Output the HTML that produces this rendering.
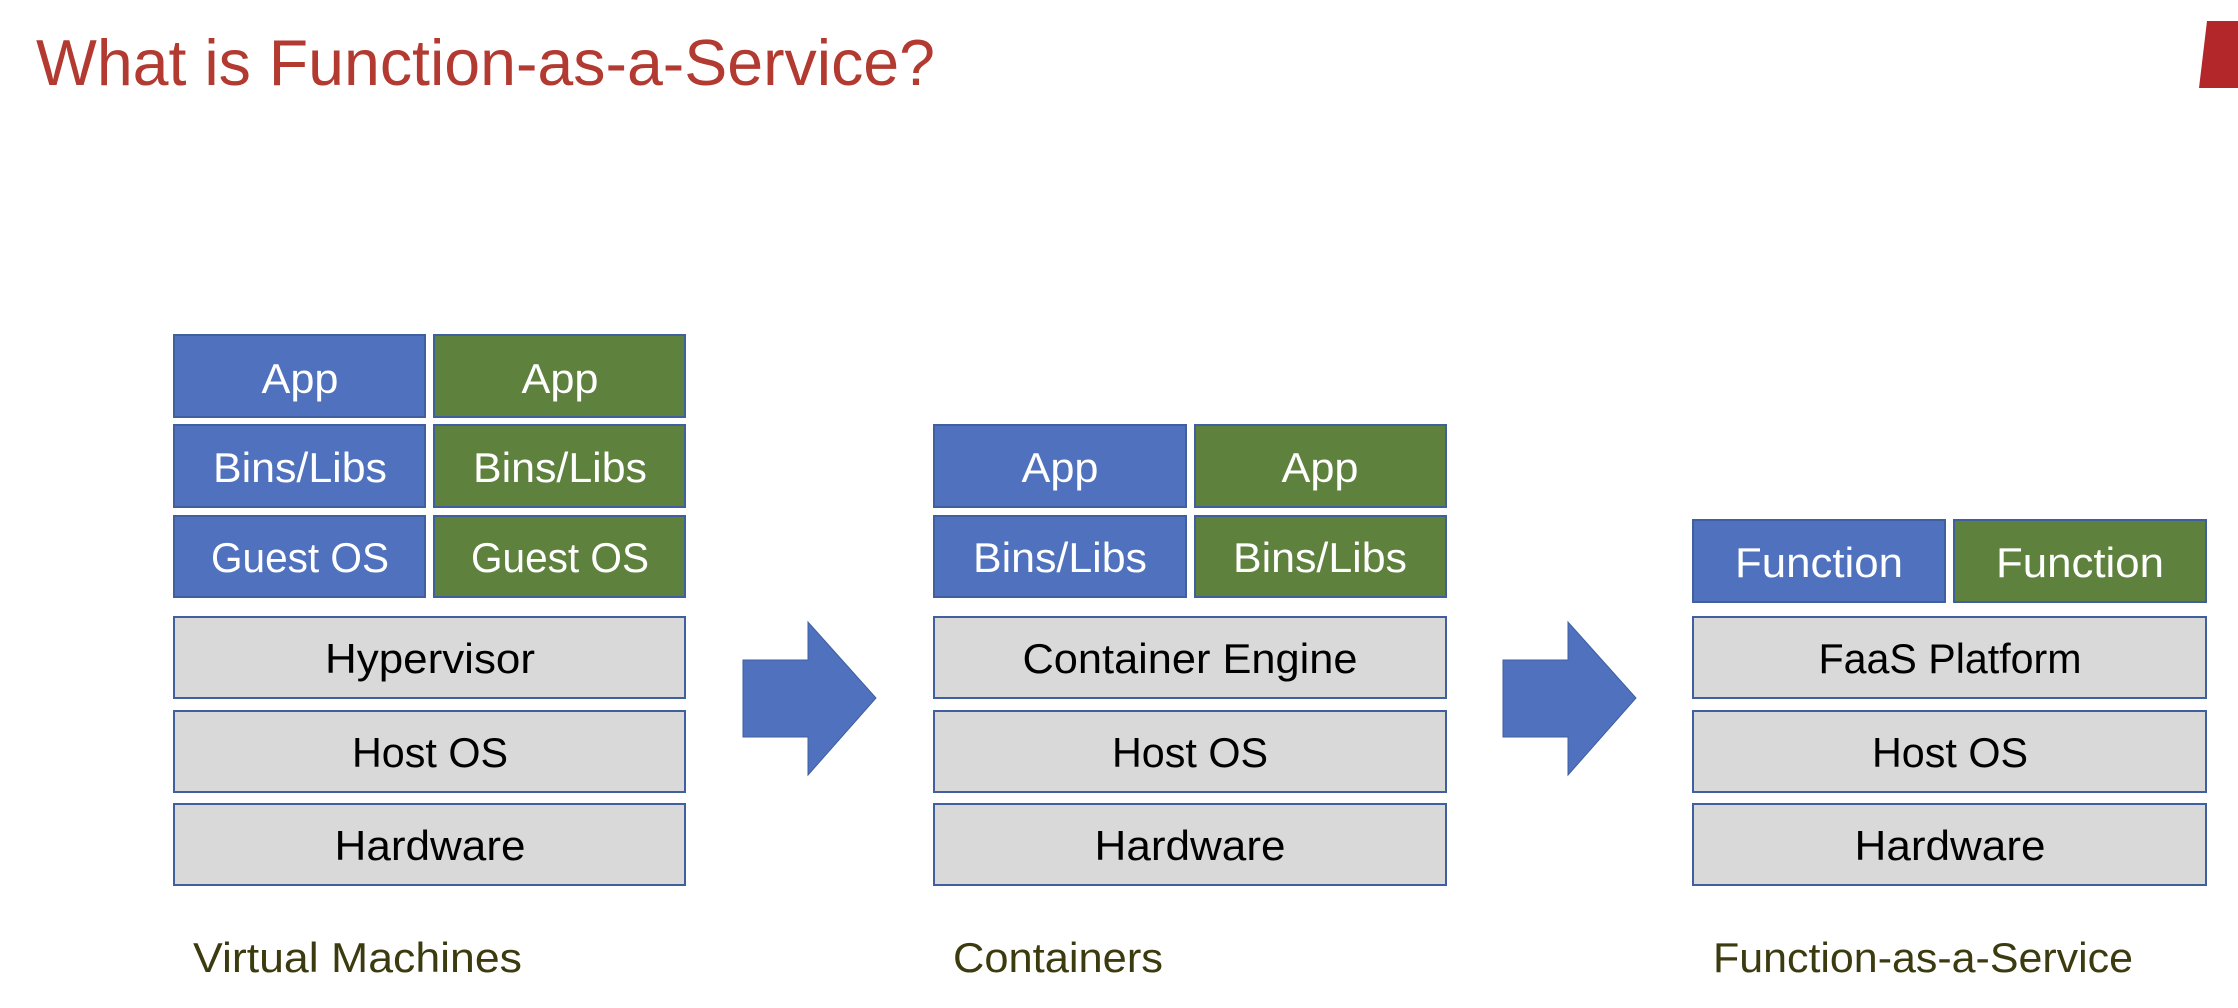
<!DOCTYPE html>
<html><head><meta charset="utf-8"><style>
html,body{margin:0;padding:0;background:#fff;width:2238px;height:1008px;overflow:hidden}
svg text{font-family:"Liberation Sans",sans-serif}
</style></head><body>
<svg width="2238" height="1008" viewBox="0 0 2238 1008" xmlns="http://www.w3.org/2000/svg">
<text x="36" y="85" font-size="65" fill="#b23a30" textLength="899" lengthAdjust="spacingAndGlyphs">What is Function-as-a-Service?</text>
<polygon points="2207,21 2238,21 2238,88 2199,88" fill="#b3262a"/>
<g stroke="#3f5f9f" stroke-width="2">
<!-- col1 -->
<rect x="174" y="335" width="251" height="82" fill="#4f71be"/>
<rect x="434" y="335" width="251" height="82" fill="#5e813d"/>
<rect x="174" y="425" width="251" height="82" fill="#4f71be"/>
<rect x="434" y="425" width="251" height="82" fill="#5e813d"/>
<rect x="174" y="516" width="251" height="81" fill="#4f71be"/>
<rect x="434" y="516" width="251" height="81" fill="#5e813d"/>
<rect x="174" y="617" width="511" height="81" fill="#d9d9d9"/>
<rect x="174" y="711" width="511" height="81" fill="#d9d9d9"/>
<rect x="174" y="804" width="511" height="81" fill="#d9d9d9"/>
<!-- col2 -->
<rect x="934" y="425" width="252" height="82" fill="#4f71be"/>
<rect x="1195" y="425" width="251" height="82" fill="#5e813d"/>
<rect x="934" y="516" width="252" height="81" fill="#4f71be"/>
<rect x="1195" y="516" width="251" height="81" fill="#5e813d"/>
<rect x="934" y="617" width="512" height="81" fill="#d9d9d9"/>
<rect x="934" y="711" width="512" height="81" fill="#d9d9d9"/>
<rect x="934" y="804" width="512" height="81" fill="#d9d9d9"/>
<!-- col3 -->
<rect x="1693" y="520" width="252" height="82" fill="#4f71be"/>
<rect x="1954" y="520" width="252" height="82" fill="#5e813d"/>
<rect x="1693" y="617" width="513" height="81" fill="#d9d9d9"/>
<rect x="1693" y="711" width="513" height="81" fill="#d9d9d9"/>
<rect x="1693" y="804" width="513" height="81" fill="#d9d9d9"/>
</g>
<polygon points="743,660 808,660 808,622 876,698 808,775 808,737 743,737" fill="#4f71be" stroke="#3f5f9f" stroke-width="1"/>
<polygon points="1503,660 1568,660 1568,622 1636,698 1568,775 1568,737 1503,737" fill="#4f71be" stroke="#3f5f9f" stroke-width="1"/>
<g font-size="42" text-anchor="middle" fill="#fff">
<text x="300" y="393" textLength="77" lengthAdjust="spacingAndGlyphs">App</text>
<text x="560" y="393" textLength="77" lengthAdjust="spacingAndGlyphs">App</text>
<text x="300" y="482" textLength="174" lengthAdjust="spacingAndGlyphs">Bins/Libs</text>
<text x="560" y="482" textLength="174" lengthAdjust="spacingAndGlyphs">Bins/Libs</text>
<text x="300" y="572" textLength="178" lengthAdjust="spacingAndGlyphs">Guest OS</text>
<text x="560" y="572" textLength="178" lengthAdjust="spacingAndGlyphs">Guest OS</text>
<text x="1060" y="482" textLength="77" lengthAdjust="spacingAndGlyphs">App</text>
<text x="1320" y="482" textLength="77" lengthAdjust="spacingAndGlyphs">App</text>
<text x="1060" y="572" textLength="174" lengthAdjust="spacingAndGlyphs">Bins/Libs</text>
<text x="1320" y="572" textLength="174" lengthAdjust="spacingAndGlyphs">Bins/Libs</text>
<text x="1819" y="577" textLength="168" lengthAdjust="spacingAndGlyphs">Function</text>
<text x="2080" y="577" textLength="168" lengthAdjust="spacingAndGlyphs">Function</text>
</g>
<g font-size="42" text-anchor="middle" fill="#000">
<text x="430" y="673" textLength="210" lengthAdjust="spacingAndGlyphs">Hypervisor</text>
<text x="430" y="767" textLength="156" lengthAdjust="spacingAndGlyphs">Host OS</text>
<text x="430" y="860" textLength="191" lengthAdjust="spacingAndGlyphs">Hardware</text>
<text x="1190" y="673" textLength="335" lengthAdjust="spacingAndGlyphs">Container Engine</text>
<text x="1190" y="767" textLength="156" lengthAdjust="spacingAndGlyphs">Host OS</text>
<text x="1190" y="860" textLength="191" lengthAdjust="spacingAndGlyphs">Hardware</text>
<text x="1950" y="673" textLength="263" lengthAdjust="spacingAndGlyphs">FaaS Platform</text>
<text x="1950" y="767" textLength="156" lengthAdjust="spacingAndGlyphs">Host OS</text>
<text x="1950" y="860" textLength="191" lengthAdjust="spacingAndGlyphs">Hardware</text>
</g>
<g font-size="42" fill="#3b3b0f">
<text x="193" y="972" textLength="329" lengthAdjust="spacingAndGlyphs">Virtual Machines</text>
<text x="953" y="972" textLength="210" lengthAdjust="spacingAndGlyphs">Containers</text>
<text x="1713" y="972" textLength="420" lengthAdjust="spacingAndGlyphs">Function-as-a-Service</text>
</g>
</svg>
</body></html>
